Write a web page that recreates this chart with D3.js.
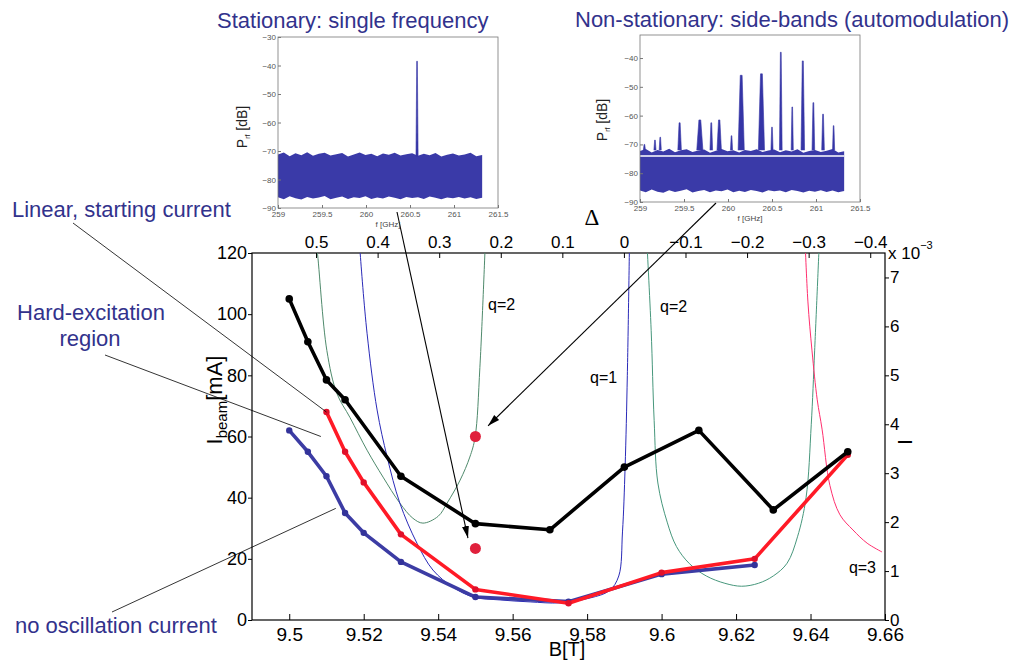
<!DOCTYPE html>
<html>
<head>
<meta charset="utf-8">
<script src="https://cdn.jsdelivr.net/npm/d3@7"></script>
<style>
body { margin: 0; background: #fff; }
svg { display: block; font-family: "Liberation Sans", Arial, Helvetica, sans-serif; }
</style>
</head>
<body>
<svg id="chart" width="1016" height="660"></svg>
<script>
// ---- main plot: measured currents vs magnetic field ----
var blackB = [9.50, 9.505, 9.51, 9.515, 9.53, 9.55, 9.57, 9.59, 9.61, 9.63, 9.65];
var blackI = [105, 91, 78.5, 72, 47, 31.5, 29.5, 50, 62, 36, 55];
var redB = [9.51, 9.515, 9.52, 9.53, 9.55, 9.575, 9.60, 9.625, 9.65];
var redI = [68, 55, 45, 28, 10, 5.5, 15.5, 20, 54];
var blueB = [9.50, 9.505, 9.51, 9.515, 9.52, 9.53, 9.55, 9.575, 9.60, 9.625];
var blueI = [62, 55, 47, 35, 28.5, 19, 7.5, 6, 15, 18];
var dotB = [9.55, 9.55];
var dotI = [60, 23.4];

// ---- theory curves (right axis, x 10^-3) ----
var q2aB = [9.5070, 9.5075, 9.5101, 9.5128, 9.5163, 9.5209, 9.5252, 9.5297, 9.5332, 9.5359, 9.5400, 9.5424, 9.5459, 9.5485, 9.5499, 9.5512, 9.5527];
var q2aR = [7.8, 7.55, 5.51, 4.63, 4.14, 3.47, 2.92, 2.39, 2.08, 1.98, 2.12, 2.39, 2.86, 3.33, 3.73, 5.16, 7.8];
var q1B = [9.5188, 9.5190, 9.5209, 9.5236, 9.5263, 9.5297, 9.5343, 9.5386, 9.5440, 9.5494, 9.5566, 9.5647, 9.5727, 9.5808, 9.5860, 9.5885, 9.5895, 9.5902, 9.5908, 9.5914];
var q1R = [7.8, 7.55, 5.86, 4.29, 3.33, 2.39, 1.57, 1.02, 0.67, 0.47, 0.41, 0.37, 0.35, 0.45, 0.60, 0.90, 1.80, 3.12, 5.0, 7.8];
var q2bB = [9.5960, 9.5972, 9.5980, 9.5990, 9.6015, 9.6040, 9.6075, 9.6120, 9.6170, 9.6215, 9.6260, 9.6300, 9.6337, 9.6365, 9.6388, 9.6402, 9.6411, 9.6424];
var q2bR = [7.8, 5.92, 4.08, 2.80, 2.00, 1.50, 1.15, 0.90, 0.75, 0.69, 0.75, 0.90, 1.16, 1.70, 2.50, 4.00, 5.50, 7.8];
var q3B = [9.6385, 9.6393, 9.6404, 9.6418, 9.6431, 9.6452, 9.6479, 9.6514, 9.6552, 9.6592];
var q3R = [7.8, 6.5, 5.5, 4.5, 3.9, 2.75, 2.15, 1.84, 1.57, 1.39];
var qLabels = [
  { b: 9.5534, r: 6.34, text: "q=2" },
  { b: 9.5996, r: 6.29, text: "q=2" },
  { b: 9.5808, r: 4.84, text: "q=1" },
  { b: 9.6503, r: 0.96, text: "q=3" }
];

// ---- tick values ----
var iTicks = [0, 20, 40, 60, 80, 100, 120];
var bTicks = [9.5, 9.52, 9.54, 9.56, 9.58, 9.6, 9.62, 9.64, 9.66];
var deltaTicks = [0.5, 0.4, 0.3, 0.2, 0.1, 0, -0.1, -0.2, -0.3, -0.4];
var rTicks = [0, 1, 2, 3, 4, 5, 6, 7];
var fTicks = [259, 259.5, 260, 260.5, 261, 261.5];
var pTicks = [-30, -40, -50, -60, -70, -80, -90];

// ---- inset spectra ----
var noiseTop1 = [-71.2, -70.5, -71.8, -70.8, -71.5, -70.4, -71.7, -71.0, -70.6, -71.6, -71.1, -70.7, -71.9, -71.2, -70.5, -71.4, -71.0, -71.8, -70.9, -71.3, -70.6, -71.6, -71.1, -70.8, -71.7, -71.0, -71.5, -70.7, -71.9, -71.3, -70.9, -71.6, -71.2, -70.6, -71.8, -71.4];
var noiseBot1 = [-86.2, -86.9, -85.9, -86.6, -87.0, -86.1, -86.7, -86.3, -85.8, -86.9, -86.4, -86.0, -86.8, -86.2, -86.5, -85.9, -86.8, -86.3, -86.7, -86.0, -86.4, -86.9, -86.1, -86.5, -86.2, -86.8, -86.0, -86.4, -86.9, -86.3, -86.6, -86.1, -86.7, -86.2, -86.8, -86.4];
var noiseTop2 = [-72.3, -71.6, -72.8, -71.9, -72.5, -71.5, -72.7, -72.0, -71.7, -72.6, -72.1, -71.8, -72.9, -72.2, -71.6, -72.4, -72.0, -72.8, -71.9, -72.3, -71.7, -72.6, -72.1, -71.8, -72.7, -72.0, -72.5, -71.7, -72.9, -72.3, -71.9, -72.6, -72.2, -71.6, -72.8, -72.4];
var noiseBot2 = [-86.0, -86.6, -85.7, -86.4, -86.8, -85.9, -86.5, -86.1, -85.6, -86.7, -86.2, -85.8, -86.6, -86.0, -86.3, -85.7, -86.6, -86.1, -86.5, -85.8, -86.2, -86.7, -85.9, -86.3, -86.0, -86.6, -85.8, -86.2, -86.7, -86.1, -86.4, -85.9, -86.5, -86.0, -86.6, -86.2];
var peak1F = [260.58];
var peak1P = [-38.5];
var peak1W = [0.012];
var peak2F = [259.05, 259.17, 259.23, 259.45, 259.68, 259.81, 259.90, 260.04, 260.15, 260.38, 260.50, 260.60, 260.73, 260.85, 260.97, 261.08, 261.20];
var peak2P = [-70, -68.5, -67.5, -62.5, -61.5, -62.5, -61.5, -67, -46, -45.5, -64, -38, -57, -41, -55.5, -59.5, -63.5];
var peak2W = [0.012, 0.012, 0.012, 0.02, 0.035, 0.015, 0.025, 0.012, 0.035, 0.035, 0.012, 0.015, 0.012, 0.02, 0.015, 0.015, 0.012];

var svg = d3.select("#chart");
var TXT = "#32328c";

// ---- scales ----
var x = d3.scaleLinear().domain([9.49, 9.66]).range([252, 885]);
var y = d3.scaleLinear().domain([0, 120]).range([620, 253]);
var yR = d3.scaleLinear().domain([0, 7.5]).range([620, 253]);
var xD = d3.scaleLinear().domain([0.604, -0.424]).range([252, 885]);

svg.append("defs").append("clipPath").attr("id", "plotclip")
  .append("rect").attr("x", 252).attr("y", 253).attr("width", 633).attr("height", 367);

var marker = svg.select("defs").append("marker")
  .attr("id", "arrow").attr("viewBox", "0 0 12 12")
  .attr("refX", 12).attr("refY", 6)
  .attr("markerWidth", 12).attr("markerHeight", 12)
  .attr("markerUnits", "userSpaceOnUse")
  .attr("orient", "auto");
marker.append("path").attr("d", "M0,2.5L12,6L0,9.5z").attr("fill", "#000");

// ---- axes ----
function styleAxis(g, size) {
  g.select(".domain").remove();
  g.selectAll(".tick line").attr("stroke", "#000").attr("stroke-width", 1);
  g.selectAll(".tick text").attr("fill", "#000").style("font-size", size + "px")
    .style("font-family", '"Liberation Sans", Arial, sans-serif');
}

svg.append("g").attr("transform", "translate(0,620)")
  .call(d3.axisBottom(x).tickValues(bTicks).tickSizeInner(-6).tickSizeOuter(0)
    .tickPadding(8).tickFormat(function (d) { return String(d); }))
  .call(styleAxis, 19);

svg.append("g").attr("transform", "translate(252,0)")
  .call(d3.axisLeft(y).tickValues(iTicks).tickSize(4).tickPadding(1))
  .call(styleAxis, 18);

svg.append("g").attr("transform", "translate(0,253)")
  .call(d3.axisTop(xD).tickValues(deltaTicks).tickSizeInner(-5).tickSizeOuter(0).tickPadding(5)
    .tickFormat(function (d) { return d === 0 ? "0" : d3.format(".1f")(d); }))
  .call(styleAxis, 17);

svg.append("g").attr("transform", "translate(885,0)")
  .call(d3.axisRight(yR).tickValues(rTicks).tickSize(4).tickPadding(1))
  .call(styleAxis, 17);

svg.append("rect").attr("x", 252).attr("y", 253).attr("width", 633).attr("height", 367)
  .attr("fill", "none").attr("stroke", "#000").attr("stroke-width", 1.2);

// axis titles
var xt = svg.append("text").attr("x", 888).attr("y", 259).style("font-size", "17px").attr("fill", "#000");
xt.append("tspan").text("x 10");
xt.append("tspan").attr("dy", -10).style("font-size", "11px").text("\u22123");

svg.append("text").attr("x", 567).attr("y", 656).attr("text-anchor", "middle")
  .style("font-size", "20px").attr("fill", "#000").text("B[T]");

var yl = svg.append("text").attr("transform", "translate(222,400) rotate(-90)")
  .attr("text-anchor", "middle").style("font-size", "22px").attr("fill", "#000");
yl.append("tspan").text("I");
yl.append("tspan").attr("dy", 5).style("font-size", "15px").text("beam");
yl.append("tspan").attr("dy", -5).text("[mA]");

svg.append("text").attr("transform", "translate(912,442) rotate(-90)")
  .attr("text-anchor", "middle").style("font-size", "20px").attr("fill", "#000").text("I");

svg.append("text").attr("x", 592).attr("y", 225).attr("text-anchor", "middle")
  .style("font-family", '"Liberation Serif", "DejaVu Serif", serif').style("font-size", "23px")
  .attr("fill", "#000").text("\u0394");

// ---- theory curves ----
var plot = svg.append("g").attr("clip-path", "url(#plotclip)");
var curve = d3.line().x(function (d) { return x(d[0]); }).y(function (d) { return yR(d[1]); })
  .curve(d3.curveCatmullRom);
[[q2aB, q2aR, "#4f8a6c"], [q1B, q1R, "#2a2ab8"], [q2bB, q2bR, "#47977c"], [q3B, q3R, "#ff2f6e"]]
  .forEach(function (c) {
    plot.append("path").datum(d3.zip(c[0], c[1])).attr("d", curve)
      .attr("fill", "none").attr("stroke", c[2]).attr("stroke-width", 1);
  });

qLabels.forEach(function (q) {
  svg.append("text").attr("x", x(q.b)).attr("y", yR(q.r)).style("font-size", "16px")
    .attr("fill", "#000").text(q.text);
});

// ---- annotation lines (start at text, end at data) ----
var notes = [
  { x0: 73, y0: 223, b: 9.51, i: 68, arrow: false },
  { x0: 105, y0: 355, b: 9.5085, i: 60, arrow: false },
  { x0: 112, y0: 612, b: 9.5125, i: 36.5, arrow: false },
  { x0: 397, y0: 212, b: 9.5480, i: 26.8, arrow: true },
  { x0: 716, y0: 203, b: 9.5534, i: 63.5, arrow: true }
];
notes.forEach(function (n) {
  var l = svg.append("line").attr("x1", n.x0).attr("y1", n.y0)
    .attr("x2", x(n.b)).attr("y2", y(n.i))
    .attr("stroke", "#000").attr("stroke-width", n.arrow ? 1.1 : 0.8);
  if (n.arrow) l.attr("marker-end", "url(#arrow)");
});

// ---- measured series ----
var line = d3.line().x(function (d) { return x(d[0]); }).y(function (d) { return y(d[1]); });
function series(bs, is, color, mcolor, r) {
  var pts = d3.zip(bs, is);
  plot.append("path").datum(pts).attr("d", line).attr("fill", "none")
    .attr("stroke", color).attr("stroke-width", 3.6).attr("stroke-linejoin", "round");
  plot.selectAll(null).data(pts).enter().append("circle")
    .attr("cx", function (d) { return x(d[0]); }).attr("cy", function (d) { return y(d[1]); })
    .attr("r", r).attr("fill", mcolor);
}
series(blueB, blueI, "#3c3ca4", "#33339a", 3.2);
series(redB, redI, "#ff1a26", "#e0102a", 3.2);
series(blackB, blackI, "#000", "#000", 3.8);

svg.selectAll(".dot").data(d3.zip(dotB, dotI)).enter().append("circle")
  .attr("cx", function (d) { return x(d[0]); }).attr("cy", function (d) { return y(d[1]); })
  .attr("r", 5.5).attr("fill", "#e0203c");

// ---- insets ----
function drawInset(cfg) {
  var g = svg.append("g");
  var fx = d3.scaleLinear().domain([259, 261.5]).range(cfg.xr);
  var fy = d3.scaleLinear().domain(cfg.yd).range(cfg.yr);
  var idx = d3.scaleLinear().domain([0, cfg.top.length - 1]).range([259, 261.32]);
  var band = d3.area()
    .x(function (d, i) { return fx(idx(i)); })
    .y0(function (d, i) { return fy(cfg.bot[i]); })
    .y1(function (d) { return fy(d); });
  g.append("path").datum(cfg.top).attr("d", band).attr("fill", "#3a3aa8");
  var spike = d3.line().x(function (d) { return fx(d[0]); }).y(function (d) { return fy(d[1]); });
  cfg.pf.forEach(function (f, k) {
    var w = cfg.pw[k], p = cfg.pp[k];
    g.append("path").datum([[f - w, -72], [f - w * 0.3, p], [f + w * 0.3, p], [f + w, -72]])
      .attr("d", spike).attr("fill", "#3535a6").attr("stroke", "#3535a6").attr("stroke-width", 0.6);
  });
  if (cfg.white) {
    g.append("line").attr("x1", fx(259)).attr("x2", fx(261.32))
      .attr("y1", fy(cfg.white)).attr("y2", fy(cfg.white))
      .attr("stroke", "#fff").attr("stroke-width", 1.6);
  }
  g.append("rect").attr("x", cfg.xr[0]).attr("y", cfg.yr[1])
    .attr("width", cfg.xr[1] - cfg.xr[0]).attr("height", cfg.yr[0] - cfg.yr[1])
    .attr("fill", "none").attr("stroke", "#777").attr("stroke-width", 0.8);
  var ax = g.append("g").attr("transform", "translate(0," + cfg.yr[0] + ")")
    .call(d3.axisBottom(fx).tickValues(fTicks).tickSizeInner(-3).tickSizeOuter(0).tickPadding(3)
      .tickFormat(function (d) { return String(d); }));
  var ay = g.append("g").attr("transform", "translate(" + cfg.xr[0] + ",0)")
    .call(d3.axisLeft(fy).tickValues(pTicks.filter(function (v) { return v >= cfg.yd[0] && v <= cfg.yd[1]; }))
      .tickSizeInner(-3).tickSizeOuter(0).tickPadding(2)
      .tickFormat(function (d) { return String(d).replace("-", "\u2212"); }));
  [ax, ay].forEach(function (a) {
    a.select(".domain").remove();
    a.selectAll(".tick line").attr("stroke", "#777");
    a.selectAll(".tick text").attr("fill", "#555").style("font-size", "8px");
  });
  g.append("text").attr("x", (cfg.xr[0] + cfg.xr[1]) / 2).attr("y", cfg.yr[0] + 19)
    .attr("text-anchor", "middle").style("font-size", "8px").attr("fill", "#444").text("f [GHz]");
  var pl = g.append("text").attr("transform", "translate(" + cfg.lx + "," + cfg.ly + ") rotate(-90)")
    .attr("text-anchor", "middle").style("font-size", "14px").attr("fill", "#222");
  pl.append("tspan").text("P");
  pl.append("tspan").attr("dy", 3).style("font-size", "7px").text(cfg.sub);
  pl.append("tspan").attr("dy", -3).text(" [dB]");
}

drawInset({ xr: [278, 498], yr: [208, 37], yd: [-90, -30], top: noiseTop1, bot: noiseBot1,
  pf: peak1F, pp: peak1P, pw: peak1W, white: null, lx: 247, ly: 127, sub: "rf" });
drawInset({ xr: [640, 860], yr: [202, 35], yd: [-90, -32], top: noiseTop2, bot: noiseBot2,
  pf: peak2F, pp: peak2P, pw: peak2W, white: -74, lx: 607, ly: 120, sub: "rf" });

// ---- annotation texts ----
function note(tx, ty, anchor, s) {
  svg.append("text").attr("x", tx).attr("y", ty).attr("text-anchor", anchor)
    .style("font-size", "22px").attr("fill", TXT).text(s);
}
note(217, 28, "start", "Stationary: single frequency");
note(575, 27, "start", "Non-stationary: side-bands (automodulation)");
note(12, 217, "start", "Linear, starting current");
note(91, 320, "middle", "Hard-excitation");
note(90, 346, "middle", "region");
note(15, 633, "start", "no oscillation current");
</script>
</body>
</html>
